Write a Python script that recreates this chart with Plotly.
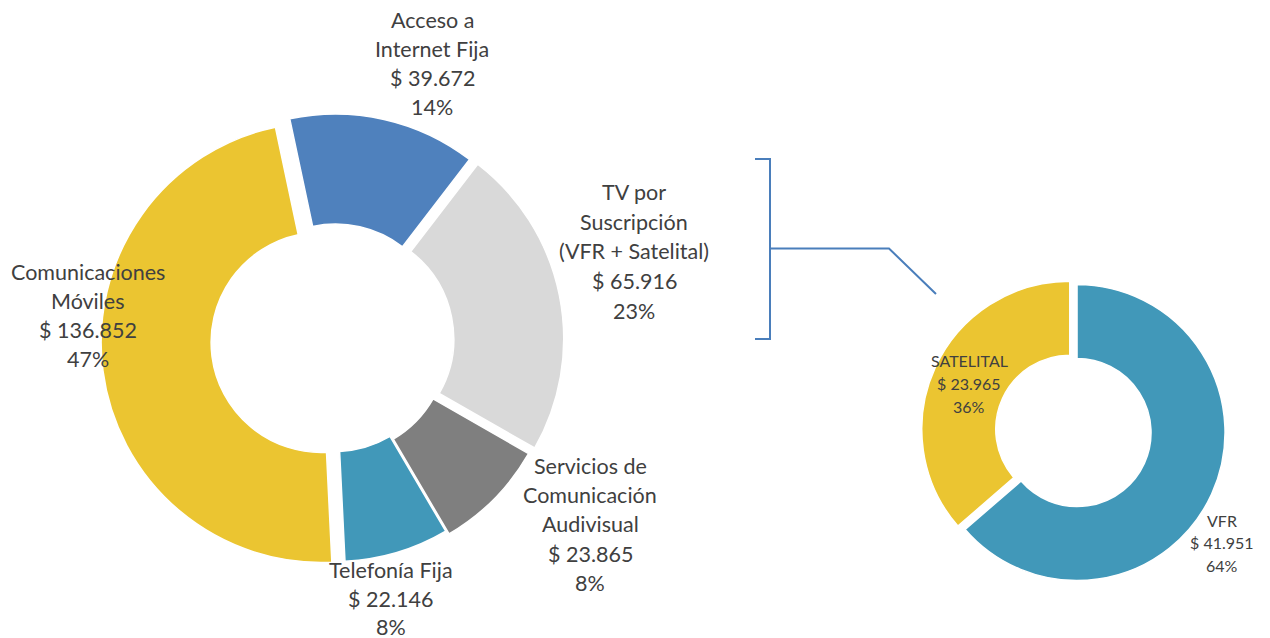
import plotly.graph_objects as go

W, H = 1270, 638
OFF = 8  # page body margin of the browser

# ---- data ----
main_labels = ["Acceso a\nInternet Fija", "TV por\nSuscripción\n(VFR + Satelital)",
               "Servicios de\nComunicación\nAudivisual", "Telefonía Fija",
               "Comunicaciones\nMóviles"]
main_values = [39672, 65916, 23865, 22146, 136852]
main_colors = ["#4F81BD", "#D9D9D9", "#7F7F7F", "#4198B9", "#EBC531"]
main_pull = [0.031, 0.045, 0.023, 0.004, 0.059]

sub_labels = ["VFR", "SATELITAL"]
sub_values = [41951, 23965]
sub_colors = ["#4198B9", "#EBC531"]
sub_pull = [0.027, 0.027]

# label anchor (x center, first-line y center, line step) in pixels
main_label_pos = [(432, 20, 29), (634, 192, 29.7), (590, 466, 29.2), (391, 570, 28.5), (88, 272, 29)]
sub_label_pos = [(1222, 520, 22.5), (969, 360, 23)]

TEXT = "#404040"
FONT = "Lato"


def px(x):
    return (x - OFF) / W


def py(y):
    return 1 - (y - OFF) / H


def money(v):
    return "$ " + f"{v:,}".replace(",", ".")


fig = go.Figure()
fig.add_trace(go.Pie(
    labels=[l.replace("\n", " ") for l in main_labels], values=main_values,
    marker=dict(colors=main_colors, line=dict(color="white", width=1.5)),
    hole=0.5, sort=False, direction="clockwise", rotation=-12,
    pull=main_pull, textinfo="none", hoverinfo="label+value+percent",
    domain=dict(x=[px(334 - 233), px(334 + 233)], y=[py(340.7 + 233), py(340.7 - 233)]),
    showlegend=False,
))
fig.add_trace(go.Pie(
    labels=sub_labels, values=sub_values,
    marker=dict(colors=sub_colors, line=dict(color="white", width=1.5)),
    hole=0.5, sort=False, direction="clockwise", rotation=0,
    pull=sub_pull, textinfo="none", hoverinfo="label+value+percent",
    domain=dict(x=[px(1073.4 - 152), px(1073.4 + 152)], y=[py(430.9 + 152), py(430.9 - 152)]),
    showlegend=False,
))

annotations = []


def add_label(lines, pos, size):
    x, y0, step = pos
    for i, t in enumerate(lines):
        annotations.append(dict(
            x=px(x), y=py(y0 + i * step), xref="paper", yref="paper",
            text=t, showarrow=False, xanchor="center", yanchor="middle",
            font=dict(family=FONT, size=size, color=TEXT),
        ))


mt = sum(main_values)
for lab, v, pos in zip(main_labels, main_values, main_label_pos):
    lines = lab.split("\n") + [money(v), f"{round(v / mt * 100)}%"]
    add_label(lines, pos, 21.5)

st = sum(sub_values)
for lab, v, pos in zip(sub_labels, sub_values, sub_label_pos):
    lines = lab.split("\n") + [money(v), f"{round(v / st * 100)}%"]
    add_label(lines, pos, 16)

# bracket + connector
LC = "#4A7EBB"
shapes = [
    dict(type="path", path=f"M {px(755)} {py(159)} L {px(770)} {py(159)} L {px(770)} {py(339)} L {px(755)} {py(339)}",
         xref="paper", yref="paper", line=dict(color=LC, width=2)),
    dict(type="path", path=f"M {px(770)} {py(248.5)} L {px(889)} {py(248.5)} L {px(936)} {py(294)}",
         xref="paper", yref="paper", line=dict(color=LC, width=2)),
]

fig.update_layout(
    width=W, height=H, margin=dict(l=0, r=0, t=0, b=0),
    paper_bgcolor="white", plot_bgcolor="white",
    annotations=annotations, shapes=shapes,
)
fig.write_html("out.html")
